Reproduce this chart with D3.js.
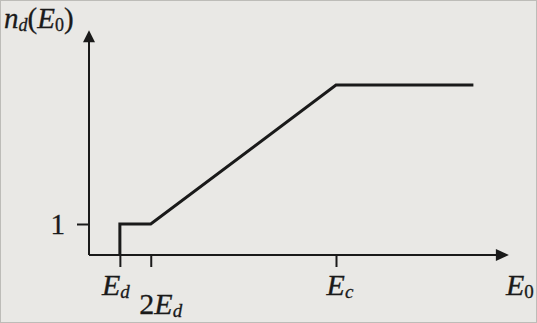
<!DOCTYPE html>
<html>
<head>
<meta charset="utf-8">
<script src="https://cdn.jsdelivr.net/npm/d3@7"></script>
<style>
  html, body { margin: 0; padding: 0; background: #e9e8e5; }
  svg { display: block; }
  text { font-family: "Liberation Serif", "DejaVu Serif", serif; fill: #1a1a1a; stroke: #1a1a1a; stroke-width: 0.3; }
</style>
</head>
<body>
<div id="chart"></div>
<script>
// piecewise curve n_d(E0), in units of E_d (x) and displaced atoms (y)
const curveX = [1, 1, 2, 8, 12.45]
const curveY = [0, 1, 1, 5.48, 5.48]

// marked energies on the x axis
const xTicks = [1, 2, 8]
const xTickLabels = [["E", "d", ""], ["E", "d", "2"], ["E", "c", ""]]
const yTicks = [1]
const yTickLabels = ["1"]

const xMax = 13.6
const yMax = 7.25

const canvasWidth = 537
const canvasHeight = 323

var svg = d3.select("#chart")
    .append("svg")
    .attr("width", canvasWidth)
    .attr("height", canvasHeight)

svg.append("rect")
    .attr("x", 0.5).attr("y", 0.5)
    .attr("width", canvasWidth - 1).attr("height", canvasHeight - 1)
    .attr("fill", "#e9e8e5")
    .attr("stroke", "#bdbcb8")

var x = d3.scaleLinear().domain([0, 8]).range([89, 336])
var y = d3.scaleLinear().domain([0, 1]).range([255, 224])

var ink = "#1a1a1a"

// axes lines
svg.append("line")
    .attr("x1", x(0)).attr("x2", x(xMax) - 10)
    .attr("y1", y(0)).attr("y2", y(0))
    .attr("stroke", ink).attr("stroke-width", 2)
svg.append("line")
    .attr("x1", x(0)).attr("x2", x(0))
    .attr("y1", y(0)).attr("y2", y(yMax) + 10)
    .attr("stroke", ink).attr("stroke-width", 2)

// arrow heads
svg.append("path")
    .attr("d", "M" + x(xMax) + "," + y(0) + " l-13,-6 l0,12 z")
    .attr("fill", ink)
svg.append("path")
    .attr("d", "M" + x(0) + "," + y(yMax) + " l-6,12 l12,0 z")
    .attr("fill", ink)

// tick marks through d3 axes
svg.append("g")
    .attr("transform", "translate(0," + y(0) + ")")
    .call(d3.axisBottom(x).tickValues(xTicks).tickSize(12).tickFormat(""))
svg.append("g")
    .attr("transform", "translate(" + x(0) + ",0)")
    .call(d3.axisLeft(y).tickValues(yTicks).tickSize(12).tickFormat(""))
svg.selectAll(".domain").remove()
svg.selectAll(".tick line").attr("stroke", ink).attr("stroke-width", 2)

// the curve
var line = d3.line()
    .x(d => x(d[0]))
    .y(d => y(d[1]))
svg.append("path")
    .datum(d3.zip(curveX, curveY))
    .attr("d", line)
    .attr("fill", "none")
    .attr("stroke", ink)
    .attr("stroke-width", 3)
    .attr("stroke-linejoin", "miter")

// x tick labels
var labelOffsets = [[-4, 295], [10, 314], [4, 295]]
xTicks.forEach((v, i) => {
    var lab = xTickLabels[i]
    var t = svg.append("text")
        .attr("x", x(v) + labelOffsets[i][0])
        .attr("y", labelOffsets[i][1])
        .attr("text-anchor", "middle")
        .attr("font-size", 30)
    if (lab[2]) t.append("tspan").text(lab[2])
    t.append("tspan").attr("font-style", "italic").text(lab[0])
    t.append("tspan").attr("font-style", "italic").attr("font-size", 19).attr("dy", 3).text(lab[1])
})

// y tick label
yTicks.forEach((v, i) => {
    svg.append("text")
        .attr("x", x(0) - 24)
        .attr("y", y(v) + 10)
        .attr("text-anchor", "end")
        .attr("font-size", 29)
        .text(yTickLabels[i])
})

// axis titles
var xt = svg.append("text")
    .attr("x", 506).attr("y", 295)
    .attr("font-size", 30)
xt.append("tspan").attr("font-style", "italic").text("E")
xt.append("tspan").attr("font-size", 19).attr("dy", 3).text("0")

var yt = svg.append("text")
    .attr("x", 4).attr("y", 28)
    .attr("font-size", 29)
yt.append("tspan").attr("font-style", "italic").text("n")
yt.append("tspan").attr("font-style", "italic").attr("font-size", 18).attr("dy", 3).text("d")
yt.append("tspan").attr("dy", -3).text("(")
yt.append("tspan").attr("font-style", "italic").text("E")
yt.append("tspan").attr("font-size", 18).attr("dy", 3).text("0")
yt.append("tspan").attr("dy", -3).text(")")
</script>
</body>
</html>
